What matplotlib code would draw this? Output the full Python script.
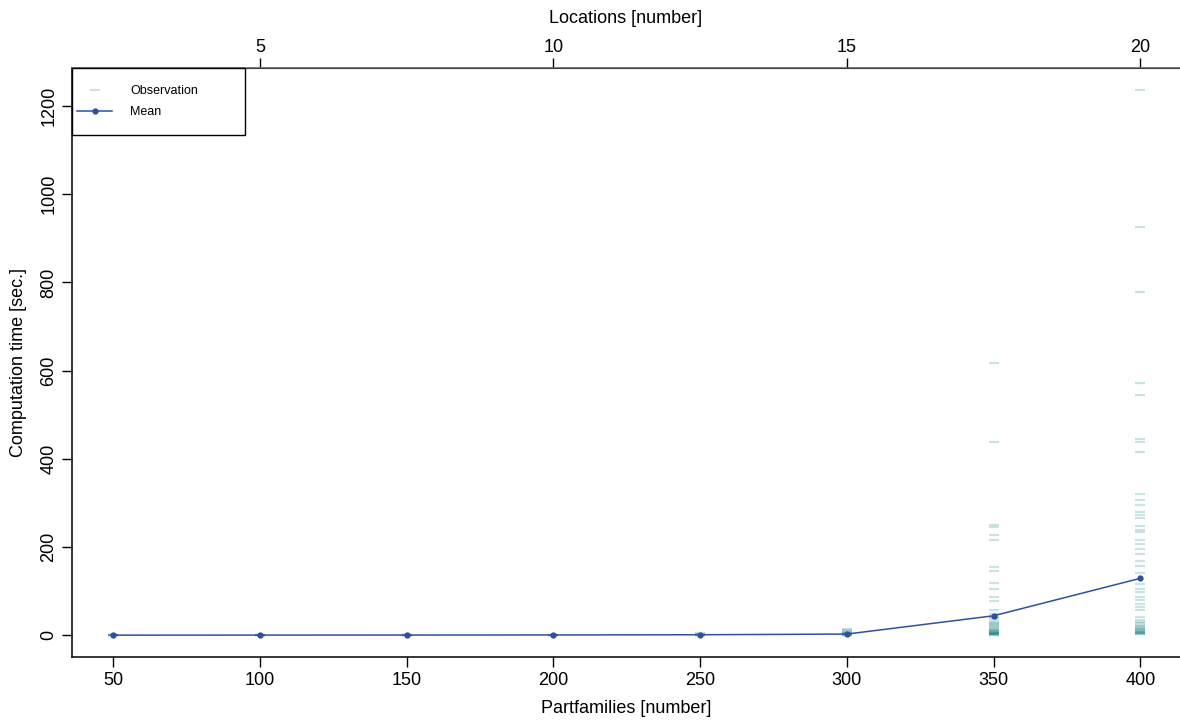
import numpy as np
import matplotlib
matplotlib.use('Agg')
import matplotlib.pyplot as plt
from matplotlib.lines import Line2D
from matplotlib.patches import Rectangle

plt.rcParams['font.family'] = ['Liberation Sans', 'DejaVu Sans']

# part families on the x axis, locations = part families / 20
partfamilies = [50, 100, 150, 200, 250, 300, 350, 400]
mean_time = [0.1, 0.2, 0.3, 0.5, 1.0, 2.5, 44, 129]

# single runs (seconds)
obs_50 = [0.1, 0.1, 0.1, 0.2, 0.2, 0.3]
obs_100 = [0.1, 0.2, 0.2, 0.3, 0.3, 0.4]
obs_150 = [0.1, 0.2, 0.3, 0.4, 0.5, 0.6]
obs_200 = [0.2, 0.3, 0.4, 0.6, 0.8, 1.0]
obs_250 = [0.5, 0.8, 1, 1.5, 2, 3, 4]
obs_300 = [0.5, 1, 1.5, 2, 3, 4, 5, 6, 8, 10, 12, 15]
obs_350 = [617, 438, 250, 246, 227, 215, 155, 145, 118, 104, 87, 78, 57, 49,
           42, 38, 35, 31, 28, 25, 22, 20, 18, 16, 14, 12, 11, 10, 9, 8, 7, 6,
           5, 4.5, 4, 3.5, 3, 2.5, 2, 1.5, 1]
obs_400 = [1237, 926, 778, 571, 545, 446, 439, 416, 320, 306, 295, 280, 273,
           265, 248, 239, 235, 217, 207, 195, 185, 168, 157, 140, 117, 104, 97,
           87, 80, 70, 64, 57, 42, 35, 30, 27, 24, 21, 18, 16, 15, 13, 12, 10,
           9, 8, 7, 6, 5, 4, 3, 2]
observations = [obs_50, obs_100, obs_150, obs_200, obs_250, obs_300, obs_350, obs_400]

loc_ticks = [5, 10, 15, 20]

obs_col = '#1a8080'
mean_col = '#2f4f9f'

fig = plt.figure(figsize=(11.8, 7.2), dpi=100)
ax = fig.add_axes([72/1180, 1 - 657/720, 1 - 72/1180, (657 - 68)/720])

for pf, vals in zip(partfamilies, observations):
    ax.plot([pf]*len(vals), vals, ls='none', marker='_', ms=7.5, mew=1.6,
            color=obs_col, alpha=0.22)
ax.plot(partfamilies, mean_time, color=mean_col, lw=1.1, marker='o', ms=3.5)

ax.set_xlim(36, 413.5)
ax.set_ylim(-49.5, 1286.5)
ax.set_xticks(partfamilies)
ax.set_yticks(range(0, 1201, 200))
ax.set_yticklabels([str(v) for v in range(0, 1201, 200)], rotation=90, va='center')
ax.tick_params(direction='out', length=7.5, width=1, labelsize=13)
ax.tick_params(axis='x', pad=3)
ax.tick_params(axis='y', pad=3)
ax.spines['right'].set_visible(False)
for s in ['left', 'bottom', 'top']:
    ax.spines[s].set_linewidth(1.1)
ax.spines['top'].set_color('#555555')
ax.set_xlabel('Partfamilies [number]', fontsize=13, labelpad=8)
ax.set_ylabel('Computation time [sec.]', fontsize=13, labelpad=10)

top = ax.secondary_xaxis('top', functions=(lambda x: x / 20, lambda x: x * 20))
top.set_xticks(loc_ticks)
top.tick_params(direction='out', length=7.5, width=1, labelsize=13, pad=1)
top.set_xlabel('Locations [number]', fontsize=13, labelpad=12)

# legend box like the R one: fixed size frame, entries drawn without frame
ax.add_patch(Rectangle((0, 1 - 67/589), 173/1108, 67/589, transform=ax.transAxes,
                       facecolor='white', edgecolor='black', lw=1.0,
                       clip_on=False, zorder=5))
handles = [Line2D([], [], ls='none', marker='_', ms=7.5, mew=1.6, color=obs_col, alpha=0.22),
           Line2D([], [], color=mean_col, lw=1.1, marker='o', ms=3.5)]
leg = ax.legend(handles, ['Observation', 'Mean'], loc='upper left',
                bbox_to_anchor=(0, 1 - 12/589), borderaxespad=0, frameon=False,
                fontsize=9, handlelength=2.8, handletextpad=1.45,
                borderpad=0.4, labelspacing=0.75)
leg.set_zorder(6)

fig.savefig('out.png', dpi=100)
